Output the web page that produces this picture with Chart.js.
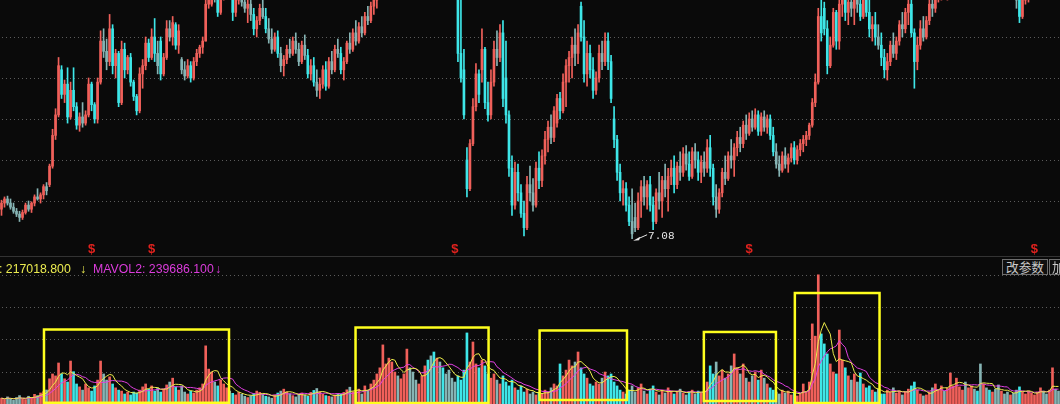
<!DOCTYPE html>
<html><head><meta charset="utf-8">
<script src="https://cdn.jsdelivr.net/npm/chart.js@4.4.1/dist/chart.umd.min.js"></script>
<style>
html,body{margin:0;padding:0;background:#0a0a0a;width:1060px;height:404px;overflow:hidden;}
#wrap{position:relative;width:1060px;height:404px;overflow:hidden;}
canvas{position:absolute;left:0;display:block;}
#price{top:0;}
#vol{top:256px;}
.sep{position:absolute;left:0;top:256px;width:1060px;height:1px;background:#333;}
.t{position:absolute;top:262px;font-family:"Liberation Sans",Arial,sans-serif;font-size:12.3px;line-height:14px;white-space:pre;}
.y{color:#ecec50;} .m{color:#dc3cdc;}
.btn{position:absolute;top:259px;height:14px;border:1px solid #6e6e6e;background:#101010;color:#c8c8c8;font-family:"Noto Sans CJK SC",sans-serif;font-size:12.7px;line-height:14px;white-space:nowrap;overflow:hidden;}
</style></head>
<body><div id="wrap">
<canvas id="price" width="1060" height="256"></canvas>
<canvas id="vol" width="1060" height="148"></canvas>
<div class="sep"></div>
<div class="t y" style="left:-50px">MAVOL1: 217018.800</div>
<div class="t y" style="left:80px">↓</div>
<div class="t m" style="left:93px">MAVOL2: 239686.100</div>
<div class="t m" style="left:215px">↓</div>
<div class="btn" style="left:1002px;width:44px;text-align:center;">改参数</div>
<div class="btn" style="left:1049px;width:30px;padding-left:2px;">加</div>
</div>
<script>
// ---- price data (one candle per trading day) ----
const openP = [
7.80,7.95,8.05,7.95,7.85,7.75,7.68,7.60,7.72,7.90,
7.80,7.95,8.10,8.05,8.15,8.35,8.40,8.85,9.60,10.10,
11.20,10.60,10.85,10.05,10.70,10.30,9.85,10.05,9.90,10.10,
10.85,10.35,10.00,10.90,11.90,11.65,11.40,12.20,11.30,11.60,
10.40,11.70,11.20,11.50,10.90,10.55,10.20,11.10,11.30,11.85,
11.50,12.00,11.60,11.90,11.10,11.50,12.20,12.00,12.30,11.80,
11.45,11.20,11.05,11.30,11.00,11.40,11.60,11.75,11.90,12.80,
12.80,13.10,12.95,12.60,13.00,13.30,13.50,13.40,12.60,12.90,
13.10,12.85,12.70,12.80,12.55,12.20,12.40,12.70,12.50,12.20,
11.95,11.70,12.00,11.60,11.30,11.45,11.70,11.60,11.90,11.70,
11.40,11.80,11.55,11.10,11.30,10.90,10.70,10.85,11.20,10.80,
11.40,11.20,11.70,11.60,11.20,11.40,11.85,11.70,12.10,11.90,
12.25,12.10,12.50,12.40,12.75,12.90,13.20,13.50,13.70,13.90,
14.00,14.20,14.40,14.20,14.40,14.70,14.90,14.80,14.60,14.40,
14.60,14.90,15.00,14.70,14.40,14.10,14.20,14.00,13.70,13.50,
13.30,13.10,13.10,11.60,11.20,9.00,8.30,9.40,10.30,11.10,
11.20,11.70,10.40,10.10,10.90,11.70,11.50,12.10,11.00,10.10,
8.80,7.90,8.70,8.20,7.70,7.35,8.40,8.20,7.90,8.80,
8.50,9.10,9.50,9.80,9.55,9.90,10.50,10.20,10.90,11.30,
11.50,11.80,11.60,12.75,12.00,11.10,11.60,11.20,10.70,11.00,
11.60,11.40,11.90,11.40,10.00,9.50,8.70,8.20,8.30,7.90,
7.50,7.60,7.35,8.00,8.35,8.10,8.40,7.90,7.50,8.20,
8.00,8.50,8.30,8.60,8.80,8.40,8.85,8.70,9.15,8.90,
8.60,9.20,9.00,8.70,8.95,8.80,9.30,8.80,8.10,7.80,
8.20,8.70,8.55,9.10,9.00,9.30,9.55,9.40,9.85,9.65,
10.00,9.80,10.10,9.70,10.05,9.80,10.00,9.60,9.20,8.90,
8.75,9.10,8.90,9.05,9.30,9.00,9.25,9.40,9.50,9.60,
9.85,10.40,10.90,12.50,12.70,12.20,11.30,11.80,12.60,11.90,
12.80,12.90,12.60,12.85,12.70,13.00,12.80,12.50,12.90,12.60,
12.20,12.30,12.00,11.80,11.50,11.20,11.40,11.80,11.60,11.90,
12.30,12.20,12.60,12.80,12.10,11.40,11.80,12.20,12.00,12.40,
12.80,12.70,13.10,13.20,13.30,13.10,13.40,13.60,13.80,13.90,
14.20,14.30,14.10,14.30,14.50,14.40,14.10,13.90,14.10,14.00,
13.70,13.90,13.70,13.50,13.60,13.40,13.20,13.30,13.10,12.90,
12.50,12.90,13.10,13.30,13.50,13.70,13.80,14.00,13.80,13.60,
13.80,14.00,13.90];
const highP = [
8.02,8.10,8.12,8.05,7.95,7.82,7.75,7.78,7.95,8.00,
7.98,8.15,8.30,8.20,8.40,8.45,8.90,9.75,10.25,11.50,
11.30,10.95,11.25,10.90,11.25,10.40,10.15,10.40,10.20,11.00,
10.90,10.40,11.00,12.15,12.20,11.95,12.55,12.30,11.70,11.65,
11.90,11.85,11.55,11.60,10.95,10.60,11.25,11.45,12.00,11.95,
12.20,12.45,11.90,12.00,11.60,12.40,12.40,12.50,12.35,12.30,
11.50,11.40,11.45,11.40,11.50,11.70,11.80,12.00,12.95,13.30,
13.30,13.40,13.20,13.10,13.40,13.60,13.80,13.60,13.00,13.20,
13.30,13.10,12.95,13.00,12.70,12.50,12.80,12.90,12.70,12.45,
12.20,12.10,12.15,11.75,11.55,11.80,11.95,12.00,12.10,11.85,
11.90,12.05,11.70,11.45,11.50,11.20,11.00,11.30,11.40,11.50,
11.65,11.80,11.95,11.75,11.50,11.90,12.10,12.20,12.40,12.35,
12.50,12.60,12.75,12.85,13.00,13.30,13.60,13.80,14.00,14.20,
14.30,14.50,14.60,14.50,14.80,15.00,15.20,15.10,14.90,14.70,
15.00,15.20,15.30,14.90,14.60,14.40,14.50,14.20,14.00,13.80,
13.60,13.40,13.30,12.90,11.70,9.30,9.50,10.50,11.35,11.20,
12.20,11.75,10.90,11.20,11.90,12.15,12.30,12.40,11.90,10.20,
9.10,8.95,8.90,8.40,8.00,8.60,8.85,8.55,8.95,9.20,
9.25,9.70,9.95,10.10,10.30,10.60,10.65,11.10,11.45,11.65,
12.00,12.20,12.30,12.85,12.40,11.90,11.80,11.50,11.15,11.80,
11.90,12.10,12.10,11.55,10.30,9.60,8.90,8.50,8.45,8.10,
8.30,7.95,8.20,8.50,8.60,8.50,8.60,8.10,8.30,8.70,
8.60,8.90,8.80,9.00,9.10,8.95,9.20,9.30,9.35,9.20,
9.30,9.40,9.20,9.10,9.20,9.50,9.60,8.90,8.40,8.30,
8.80,9.10,9.20,9.50,9.40,9.70,9.80,9.95,10.10,10.15,
10.20,10.25,10.20,10.15,10.20,10.10,10.10,9.80,9.40,9.10,
9.20,9.30,9.15,9.40,9.45,9.35,9.50,9.60,9.70,9.90,
10.50,11.10,12.70,12.95,12.85,12.40,12.00,12.70,12.65,12.95,
13.10,13.20,13.00,13.10,13.20,13.30,13.00,13.00,13.10,12.90,
12.50,12.60,12.30,12.10,11.70,11.60,11.90,12.10,12.00,12.40,
12.60,12.70,12.90,12.90,12.20,12.00,12.40,12.50,12.50,12.90,
13.10,13.20,13.40,13.50,13.60,13.50,13.80,13.90,14.10,14.30,
14.50,14.60,14.40,14.70,14.80,14.60,14.30,14.20,14.40,14.20,
14.00,14.10,13.90,13.80,13.80,13.60,13.50,13.50,13.30,13.20,
13.00,13.20,13.40,13.60,13.80,14.00,14.10,14.20,14.00,13.90,
14.10,14.20,14.10];
const lowP = [
7.65,7.85,7.90,7.80,7.70,7.62,7.50,7.55,7.68,7.75,
7.72,7.88,8.02,7.95,8.05,8.15,8.35,8.80,9.50,10.05,
10.50,10.40,9.90,10.00,10.20,9.75,9.70,9.80,9.85,10.05,
10.20,9.90,9.90,10.85,11.50,11.20,11.30,11.10,11.00,10.30,
10.35,11.00,11.10,10.80,10.45,10.10,10.15,10.75,11.20,11.40,
11.45,11.40,11.10,10.95,11.05,11.45,11.90,11.80,11.70,11.60,
11.10,10.95,11.00,10.90,10.95,11.30,11.50,11.60,11.90,12.70,
12.75,12.85,12.50,12.55,12.90,13.10,13.30,12.40,12.50,12.80,
12.75,12.60,12.35,12.40,12.05,12.00,12.30,12.45,12.10,11.85,
11.60,11.65,11.50,11.15,11.05,11.35,11.50,11.55,11.60,11.30,
11.35,11.45,11.00,10.95,10.80,10.55,10.50,10.75,10.70,10.75,
11.10,11.15,11.50,11.10,10.95,11.35,11.60,11.65,11.80,11.85,
12.00,12.05,12.30,12.35,12.55,12.70,12.95,13.30,13.50,13.70,
13.80,14.00,14.10,14.00,14.30,14.50,14.60,14.50,14.30,14.10,
14.40,14.70,14.60,14.30,14.00,13.80,13.90,13.60,13.40,13.20,
13.00,12.95,11.40,10.90,10.00,8.10,8.25,9.35,10.20,10.40,
10.90,10.25,9.95,10.00,10.80,11.30,11.40,10.30,9.90,8.60,
7.65,7.80,8.00,7.60,7.15,7.30,8.00,7.75,7.85,8.30,
8.35,8.90,9.20,9.40,9.45,9.80,10.00,10.15,10.30,10.90,
11.00,11.30,11.35,11.90,10.90,10.80,11.00,10.50,10.60,10.90,
11.20,11.30,11.20,10.40,9.30,8.50,8.00,7.90,7.75,7.40,
7.08,7.25,7.30,7.60,7.90,7.80,7.75,7.30,7.45,7.80,
7.60,8.10,7.75,8.40,8.20,8.30,8.50,8.60,8.75,8.50,
8.55,8.80,8.50,8.45,8.60,8.70,8.60,7.90,7.60,7.70,
8.10,8.40,8.50,8.80,8.60,9.10,9.20,9.30,9.50,9.60,
9.70,9.75,9.60,9.60,9.70,9.65,9.50,9.10,8.80,8.60,
8.70,8.80,8.70,8.95,8.90,8.90,9.10,9.20,9.35,9.50,
9.80,10.30,10.85,11.90,12.05,11.10,11.25,11.75,11.70,11.70,
12.50,12.40,12.30,12.50,12.30,12.60,12.40,12.45,12.50,12.00,
11.90,11.80,11.70,11.30,11.00,10.95,11.30,11.50,11.45,11.80,
12.00,12.10,12.30,12.00,10.75,11.20,11.70,11.90,11.95,12.30,
12.50,12.60,12.85,12.90,12.95,12.90,13.20,13.40,13.60,13.70,
14.00,14.00,13.90,14.10,14.20,14.00,13.80,13.70,13.90,13.60,
13.50,13.60,13.40,13.30,13.30,13.10,13.00,13.00,12.70,12.35,
12.45,12.80,12.85,13.10,13.30,13.50,13.60,13.70,13.50,13.40,
13.60,13.70,13.60];
const closeP = [
7.95,8.05,7.95,7.85,7.75,7.68,7.60,7.72,7.90,7.80,
7.95,8.10,8.05,8.15,8.35,8.25,8.85,9.60,10.10,11.30,
10.60,10.85,10.05,10.70,10.30,9.85,10.05,9.90,10.10,10.85,
10.35,10.00,10.90,11.90,11.65,11.40,12.20,11.30,11.60,10.40,
11.70,11.20,11.50,10.90,10.55,10.20,11.10,11.30,11.85,11.50,
12.00,11.60,11.30,11.10,11.50,12.20,12.00,12.35,11.80,12.15,
11.20,11.05,11.30,11.00,11.40,11.60,11.75,11.90,12.80,13.20,
13.10,12.95,12.60,13.00,13.30,13.50,13.40,12.60,12.90,13.10,
12.85,12.70,12.80,12.55,12.20,12.40,12.70,12.50,12.20,11.95,
11.70,12.00,11.60,11.30,11.45,11.70,11.60,11.90,11.70,11.40,
11.80,11.55,11.10,11.30,10.90,10.70,10.85,11.20,10.80,11.40,
11.20,11.70,11.60,11.20,11.40,11.85,11.70,12.10,11.90,12.25,
12.10,12.50,12.40,12.75,12.90,13.20,13.50,13.70,13.90,14.00,
14.20,14.40,14.20,14.40,14.70,14.90,14.80,14.60,14.40,14.60,
14.90,15.00,14.70,14.40,14.10,14.20,14.00,13.70,13.50,13.30,
13.10,13.00,11.60,11.00,10.10,8.30,9.40,10.30,11.10,10.60,
11.70,10.40,10.10,10.90,11.70,11.50,12.10,10.50,10.10,8.80,
7.90,8.70,8.20,7.70,7.35,8.40,8.20,7.90,8.80,8.50,
9.10,9.50,9.80,9.55,10.20,10.50,10.20,10.90,11.30,11.50,
11.80,11.60,12.10,12.00,11.10,11.60,11.20,10.70,11.00,11.60,
11.40,11.90,11.40,10.50,9.50,8.70,8.20,8.30,7.90,7.50,
7.20,7.35,8.00,8.35,8.10,8.40,7.90,7.50,8.20,8.00,
8.50,8.30,8.60,8.80,8.40,8.85,8.70,9.15,8.90,8.60,
9.20,9.00,8.70,8.95,8.80,9.30,8.80,8.10,7.80,8.20,
8.70,8.55,9.10,9.00,9.30,9.55,9.40,9.85,9.65,10.00,
9.80,10.10,9.70,10.05,9.80,10.00,9.60,9.20,8.90,8.75,
9.10,8.90,9.05,9.30,9.00,9.25,9.40,9.50,9.60,9.85,
10.40,10.90,12.50,12.10,12.20,11.30,11.80,12.60,11.90,12.80,
12.90,12.60,12.85,12.70,13.00,12.80,12.50,12.90,12.60,12.20,
12.30,12.00,11.80,11.50,11.20,11.40,11.80,11.60,11.90,12.30,
12.20,12.60,12.80,12.10,11.40,11.80,12.20,12.00,12.40,12.80,
12.70,13.10,13.20,13.30,13.10,13.40,13.60,13.80,13.90,14.20,
14.30,14.10,14.30,14.50,14.40,14.10,13.90,14.10,14.00,13.70,
13.90,13.70,13.50,13.60,13.40,13.20,13.30,13.10,12.90,12.50,
12.90,13.10,13.30,13.50,13.70,13.80,14.00,13.80,13.60,13.80,
14.00,13.90,13.80];
// ---- volume (thousands) ----
const volumeK = [
90,70,110,80,60,100,130,80,70,120,
100,150,130,170,190,217,390,465,435,635,
465,390,340,665,500,310,265,215,310,250,
200,280,370,665,465,370,420,310,250,215,
200,155,185,140,185,170,215,265,310,230,
280,200,250,185,230,295,340,400,265,215,
280,185,155,200,170,215,250,310,900,540,
495,340,280,370,310,250,200,165,140,180,
150,120,100,130,160,200,180,150,120,110,
90,140,170,200,230,190,160,130,110,150,
170,140,120,180,210,240,190,150,130,120,
110,140,160,150,180,220,260,190,185,230,
155,280,215,310,370,465,560,915,620,710,
650,495,435,390,465,850,560,495,370,310,
435,590,680,745,805,710,650,560,465,525,
400,340,435,370,525,1100,650,960,620,560,
680,590,465,400,465,370,310,435,340,280,
370,250,215,280,185,230,155,185,140,170,
155,215,185,250,310,280,620,435,525,680,
590,650,805,560,465,400,310,280,340,310,
400,495,435,465,340,280,215,185,155,215,
280,185,250,310,200,155,230,280,185,140,
215,170,250,200,155,185,230,170,140,185,
215,155,200,170,185,340,590,465,650,435,
525,400,465,590,775,560,465,620,400,340,
435,495,370,525,400,310,250,215,185,155,
215,170,200,140,185,125,155,310,185,340,
1240,1050,2000,1085,930,775,620,495,465,1145,
680,560,435,370,465,340,480,310,250,280,
215,185,230,155,155,215,185,250,170,200,
140,185,230,280,340,215,155,125,140,185,
250,310,215,280,200,250,480,280,400,265,
215,340,250,280,230,200,620,310,250,215,
185,230,295,200,155,185,140,170,215,265,
185,155,200,170,140,185,250,200,155,215,
560,230,200];
// ---- annotations ----
const priceGridLevels = [8, 9, 10, 11, 12];
const volGridLevels = [500, 1000, 1500, 2000];
const signalIdx = [30, 50, 151, 249, 344];
const signalLevel = 6.83;
const lowMarkIdx = 210;
const boxStartIdx = [14.15, 117.9, 179.2, 233.9, 264.2];
const boxEndIdx   = [75.76, 162.2, 208.3, 257.9, 292.4];
const boxTopK     = [1153, 1184, 1138, 1115, 1718];
const boxBottomK  = [19, 15, 62, 46, 15];

const labels = openP.map((_, i) => i);
const colors = labels.map(i => {
  if (closeP[i] >= openP[i]) return '#f0605a';
  return Math.abs(closeP[i] - openP[i]) >= 0.3 ? '#3ee6e8' : '#86b4b4';
});
function movingAvg(arr, n) {
  return arr.map((_, i) => {
    const s = arr.slice(Math.max(0, i - n + 1), i + 1);
    return s.reduce((a, b) => a + b, 0) / s.length;
  });
}
const ma5 = movingAvg(volumeK, 5);
const ma10 = movingAvg(volumeK, 10);

function dottedGrid(levels) {
  return {
    id: 'dottedGrid',
    beforeDatasetsDraw(chart) {
      const ctx = chart.ctx, ys = chart.scales.y, a = chart.chartArea;
      ctx.save();
      ctx.strokeStyle = '#5c5c5c'; ctx.lineWidth = 1; ctx.setLineDash([1, 3]);
      levels.forEach(v => {
        const y = Math.round(ys.getPixelForValue(v)) + 0.5;
        ctx.beginPath(); ctx.moveTo(a.left + 2, y); ctx.lineTo(a.right, y); ctx.stroke();
      });
      ctx.restore();
    }
  };
}
const priceMarks = {
  id: 'priceMarks',
  afterDatasetsDraw(chart) {
    const ctx = chart.ctx, xs = chart.scales.x, ys = chart.scales.y;
    ctx.save();
    ctx.font = 'bold 13px "Liberation Sans", Arial, sans-serif';
    ctx.fillStyle = '#e0221e'; ctx.textAlign = 'center'; ctx.textBaseline = 'middle';
    signalIdx.forEach(i => ctx.fillText('$', xs.getPixelForValue(i), ys.getPixelForValue(signalLevel)));
    const x = xs.getPixelForValue(lowMarkIdx), y = ys.getPixelForValue(lowP[lowMarkIdx]);
    ctx.fillStyle = '#e8e8e8'; ctx.strokeStyle = '#e8e8e8'; ctx.lineWidth = 1;
    ctx.beginPath(); ctx.moveTo(x + 1, y + 2); ctx.lineTo(x + 8, y - 2); ctx.lineTo(x + 7, y + 1.5); ctx.closePath(); ctx.fill();
    ctx.beginPath(); ctx.moveTo(x + 6, y); ctx.lineTo(x + 15, y - 4); ctx.stroke();
    ctx.font = '11px "Liberation Mono", monospace';
    ctx.textAlign = 'left'; ctx.textBaseline = 'middle';
    ctx.fillText(lowP[lowMarkIdx].toFixed(2), x + 16, y - 2.5);
    ctx.restore();
  }
};
const volBoxes = {
  id: 'volBoxes',
  afterDatasetsDraw(chart) {
    const ctx = chart.ctx, xs = chart.scales.x, ys = chart.scales.y;
    ctx.save();
    ctx.strokeStyle = '#ffff1e'; ctx.lineWidth = 2.5;
    boxStartIdx.forEach((s, k) => {
      const x1 = xs.getPixelForValue(s), x2 = xs.getPixelForValue(boxEndIdx[k]);
      const y1 = ys.getPixelForValue(boxTopK[k]), y2 = ys.getPixelForValue(boxBottomK[k]);
      ctx.strokeRect(x1, y1, x2 - x1, y2 - y1);
    });
    ctx.restore();
  }
};

const common = {
  responsive: false, animation: false, events: [],
  layout: { padding: 0 },
  plugins: { legend: { display: false }, tooltip: { enabled: false } }
};

new Chart(document.getElementById('price'), {
  type: 'bar',
  data: { labels, datasets: [
    { data: labels.map(i => [openP[i], closeP[i]]), backgroundColor: colors, barThickness: 2, grouped: false, minBarLength: 1, clip: 0, order: 1 },
    { data: labels.map(i => [lowP[i], highP[i]]), backgroundColor: colors, barThickness: 1, grouped: false, clip: 0, order: 2 }
  ]},
  options: Object.assign({}, common, {
    scales: { x: { display: false, offset: true }, y: { display: false, min: 6.659, max: 12.902 } }
  }),
  plugins: [dottedGrid(priceGridLevels), priceMarks]
});

new Chart(document.getElementById('vol'), {
  type: 'bar',
  data: { labels, datasets: [
    { type: 'line', data: ma5, borderColor: '#ecec4a', borderWidth: 1, pointRadius: 0, tension: 0, clip: 0, order: 0 },
    { type: 'line', data: ma10, borderColor: '#e040e0', borderWidth: 1, pointRadius: 0, tension: 0, clip: 0, order: 1 },
    { data: volumeK, backgroundColor: colors, barThickness: 2, grouped: false, clip: 0, order: 2 }
  ]},
  options: Object.assign({}, common, {
    scales: { x: { display: false, offset: true }, y: { display: false, min: 0, max: 2291 } }
  }),
  plugins: [dottedGrid(volGridLevels), volBoxes]
});
</script>
</body></html>
